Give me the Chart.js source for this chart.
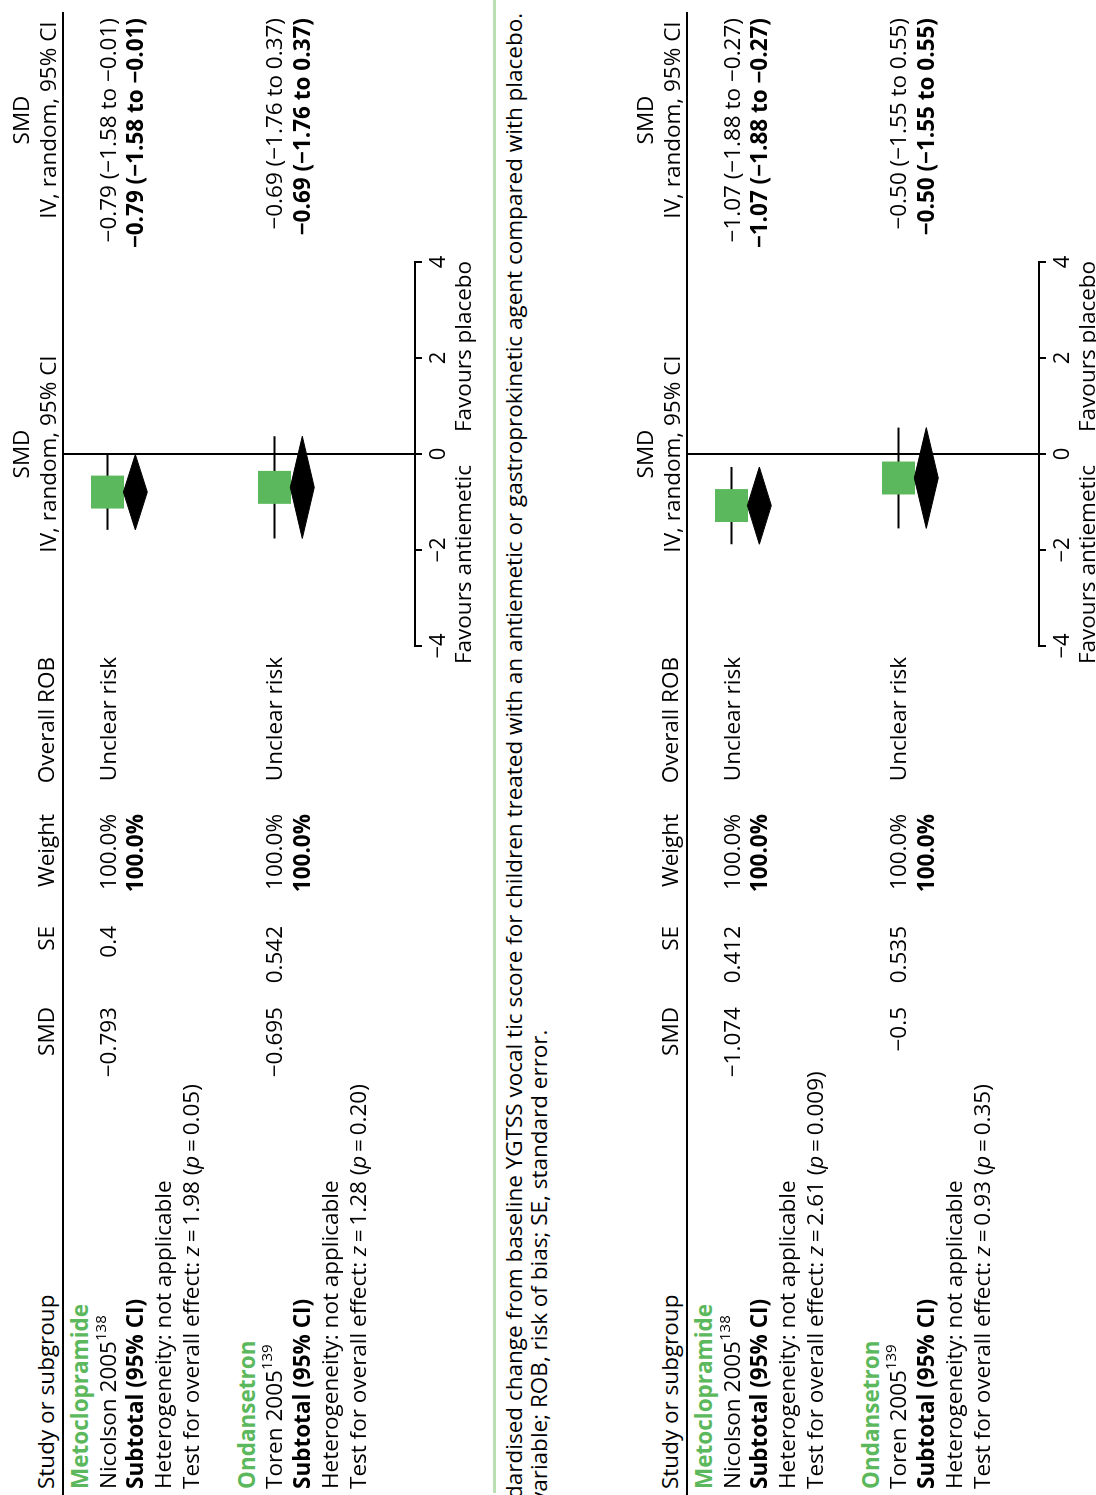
<!DOCTYPE html>
<html>
<head>
<meta charset="utf-8">
<script src="https://cdn.jsdelivr.net/npm/chart.js@4.4.0/dist/chart.umd.min.js"></script>
<style>
body { margin: 0; background: #fff; overflow: hidden; width: 1096px; height: 1495px; }
#page { position: absolute; left: 0; top: 0; width: 1495px; height: 1096px; transform-origin: 0 0;
  transform: translate(0, 1495px) rotate(-90deg); font-family: "Open Sans", sans-serif; font-size: 22.5px; color: #000; }
.t { position: absolute; white-space: nowrap; line-height: 24px; height: 24px; }
.b { font-weight: bold; }
.g { color: #5cb85c; font-weight: bold; }
.rule { position: absolute; background: #000; }
canvas { position: absolute; }
sup { font-size: 15px; line-height: 0; vertical-align: 10px; }
</style>
</head>
<body>
<div id="page"></div>
<script>
// upper figure (vocal tic score)
const groupsA = ["Metoclopramide", "Ondansetron"]
const studiesA = ["Nicolson 2005", "Toren 2005"]
const refsA = ["138", "139"]
const smdA = [-0.793, -0.695]
const seA = [0.4, 0.542]
const weightA = [100.0, 100.0]
const robA = ["Unclear risk", "Unclear risk"]
const lowA = [-1.58, -1.76]
const highA = [-0.01, 0.37]
const zA = ["1.98", "1.28"]
const pA = ["0.05", "0.20"]

// lower figure
const groupsB = ["Metoclopramide", "Ondansetron"]
const studiesB = ["Nicolson 2005", "Toren 2005"]
const refsB = ["138", "139"]
const smdB = [-1.074, -0.5]
const seB = [0.412, 0.535]
const weightB = [100.0, 100.0]
const robB = ["Unclear risk", "Unclear risk"]
const lowB = [-1.88, -1.55]
const highB = [-0.27, 0.55]
const zB = ["2.61", "0.93"]
const pB = ["0.009", "0.35"]

const axisTicks = [-4, -2, 0, 2, 4]
const captionA = ["dardised change from baseline YGTSS vocal tic score for children treated with an antiemetic or gastroprokinetic agent compared with placebo.",
                  "variable; ROB, risk of bias; SE, standard error."]

const GREEN = "#5cb85c"
const page = document.getElementById("page")
Chart.defaults.font.family = '"Open Sans", sans-serif'

function minus(s) { return String(s).replace(/-/g, "\u2212") }
function fmt(v) { return minus(v.toFixed(2)) }

function addText(html, x, y, align, cls) {
    const d = document.createElement("div")
    d.className = "t " + (cls || "")
    d.innerHTML = html
    if (align == "right") { d.style.left = (x - 600) + "px"; d.style.width = "600px"; d.style.textAlign = "right" }
    else if (align == "center") { d.style.left = (x - 300) + "px"; d.style.width = "600px"; d.style.textAlign = "center" }
    else d.style.left = x + "px"
    d.style.top = (y - 12) + "px"
    page.appendChild(d)
}

function addRule(x, y, w, h, color) {
    const d = document.createElement("div")
    d.className = "rule"
    d.style.left = x + "px"; d.style.top = y + "px"
    d.style.width = w + "px"; d.style.height = h + "px"
    if (color) d.style.background = color
    page.appendChild(d)
}

function drawPanel(top, groups, studies, refs, smd, se, weight, rob, low, high, z, p) {
    const cv = document.createElement("canvas")
    cv.width = 480; cv.height = 402
    cv.style.left = "800px"; cv.style.top = (top + 53) + "px"
    page.appendChild(cv)

    const datasets = []
    groups.forEach((g, i) => {
        const r = i * 6
        datasets.push({ data: [{x: low[i], y: r + 1}, {x: high[i], y: r + 1}], showLine: true,
            borderColor: "#000", borderWidth: 2, pointRadius: 0, order: 3 })
        datasets.push({ data: [{x: smd[i], y: r + 1}], pointStyle: "rect", pointRadius: Math.sqrt(weight[i]) * 2.33,
            backgroundColor: GREEN, borderWidth: 0, order: 2 })
        datasets.push({ data: [{x: low[i], y: r + 2}, {x: smd[i], y: r + 1.57}, {x: high[i], y: r + 2},
            {x: smd[i], y: r + 2.43}, {x: low[i], y: r + 2}], showLine: true, fill: "shape",
            backgroundColor: "#000", borderColor: "#000", borderWidth: 1, pointRadius: 0, order: 1 })
    })

    const chart = new Chart(cv, {
        type: "scatter",
        data: { datasets: datasets },
        options: {
            responsive: false, animation: false,
            layout: { autoPadding: false, padding: { left: 49, right: 47, top: 10, bottom: 0 } },
            plugins: { legend: { display: false }, tooltip: { enabled: false } },
            scales: {
                x: {
                    type: "linear", position: "bottom", min: -4, max: 4,
                    afterBuildTicks: s => { s.ticks = axisTicks.map(v => ({ value: v })) },
                    afterFit: s => { s.height = 40 },
                    ticks: { callback: v => minus(v), color: "#000", font: { size: 22 }, padding: 4, maxRotation: 0 },
                    grid: { color: c => (c.tick && c.tick.value === 0) ? "#000" : "rgba(0,0,0,0)", lineWidth: 2,
                        tickColor: "#000", tickWidth: 2, tickLength: 7 },
                    border: { display: true, color: "#000", width: 2 }
                },
                y: { type: "linear", min: -0.6, max: 12.05, reverse: true, display: false }
            }
        }
    })

    const ys = chart.scales.y, xs = chart.scales.x
    const rowY = i => top + 53 + ys.getPixelForValue(i)
    const zeroX = 800 + xs.getPixelForValue(0)

    // header
    addText("Study or subgroup", 6, top + 46)
    addText("SMD", 488, top + 46, "right")
    addText("SE", 569, top + 46, "right")
    addText("Weight", 681, top + 46, "right")
    addText("Overall ROB", 838, top + 46, "right")
    addText("SMD", zeroX, top + 21, "center")
    addText("IV, random, 95% CI", zeroX, top + 48, "center")
    addText("SMD", 1375, top + 21, "center")
    addText("IV, random, 95% CI", 1375, top + 48, "center")
    addRule(0, top + 62, 1483, 2)

    groups.forEach((g, i) => {
        const r = i * 6
        addText(g, 6, rowY(r), "left", "g")
        addText(studies[i] + "<sup>" + refs[i] + "</sup>", 6, rowY(r + 1))
        addText(minus(smd[i]), 488, rowY(r + 1), "right")
        addText(String(se[i]), 569, rowY(r + 1), "right")
        addText(weight[i].toFixed(1) + "%", 681, rowY(r + 1), "right")
        addText(rob[i], 838, rowY(r + 1), "right")
        addText(fmt(smd[i]) + " (" + fmt(low[i]) + " to " + fmt(high[i]) + ")", 1477, rowY(r + 1), "right")
        addText("Subtotal (95% CI)", 6, rowY(r + 2), "left", "b")
        addText(weight[i].toFixed(1) + "%", 681, rowY(r + 2), "right", "b")
        addText(fmt(smd[i]) + " (" + fmt(low[i]) + " to " + fmt(high[i]) + ")", 1477, rowY(r + 2), "right", "b")
        addText("Heterogeneity: not applicable", 6, rowY(r + 3))
        addText("Test for overall effect: <i>z</i>\u2009=\u2009" + z[i] + " (<i>p</i>\u2009=\u2009" + p[i] + ")", 6, rowY(r + 4))
    })

    addText("Favours antiemetic", zeroX - 11, top + 463, "right")
    addText("Favours placebo", zeroX + 22, top + 463)
}

drawPanel(0, groupsA, studiesA, refsA, smdA, seA, weightA, robA, lowA, highA, zA, pA)
addRule(2, 493, 1493, 3, "#b9dfb2")
addText(captionA[0], -4, 514)
addText(captionA[1], -8, 539)
drawPanel(624, groupsB, studiesB, refsB, smdB, seB, weightB, robB, lowB, highB, zB, pB)
</script>
</body>
</html>
